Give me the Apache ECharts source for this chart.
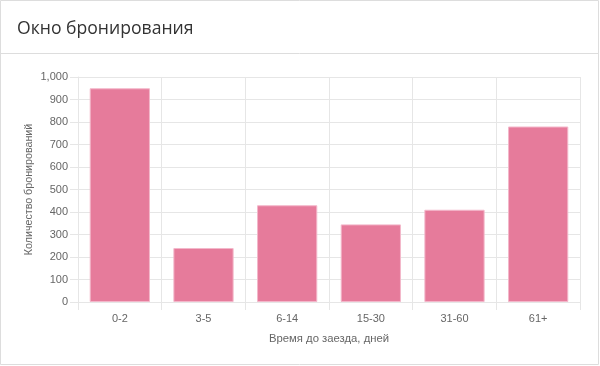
<!DOCTYPE html>
<html>
<head>
<meta charset="utf-8">
<script src="https://cdn.jsdelivr.net/npm/echarts@6/dist/echarts.min.js"></script>
<style>
html,body{margin:0;padding:0;background:#fff;}
#c{width:600px;height:366px;}
</style>
</head>
<body>
<div id="c"></div>
<script>
const titleText = 'Окно бронирования';
const categories = ['0-2', '3-5', '6-14', '15-30', '31-60', '61+'];
const bookings = [950, 240, 430, 345, 410, 780];
const yAxisName = 'Количество бронирований';
const xAxisName = 'Время до заезда, дней';

const chart = echarts.init(document.getElementById('c'), null, {renderer: 'canvas'});
const gridColor = '#e6e6e6';
chart.setOption({
  animation: false,
  backgroundColor: '#fff',
  title: {
    text: titleText,
    left: 17,
    top: 20,
    padding: 0,
    textStyle: {fontFamily: 'Open Sans', fontSize: 17.6, fontWeight: 'normal', color: '#333'}
  },
  graphic: [
    {type: 'rect', shape: {x: 0.5, y: 0.5, width: 598, height: 364}, style: {fill: 'none', stroke: '#dddddd', lineWidth: 1}, silent: true, z: -1},
    {type: 'line', shape: {x1: 0, y1: 53.5, x2: 599, y2: 53.5}, style: {stroke: '#dddddd', lineWidth: 1}, silent: true}
  ],
  grid: {left: 78, right: 20, top: 77, bottom: 64, containLabel: false},
  xAxis: {
    type: 'category',
    data: categories,
    name: xAxisName,
    nameLocation: 'middle',
    nameGap: 31,
    nameMoveOverlap: false,
    nameTextStyle: {fontFamily: 'Liberation Sans', fontSize: 11.3, color: '#666'},
    axisLine: {show: true, lineStyle: {color: gridColor}},
    axisTick: {show: true, length: 8, lineStyle: {color: gridColor}},
    splitLine: {show: true, lineStyle: {color: gridColor}},
    axisLabel: {fontFamily: 'Liberation Sans', fontSize: 11, color: '#666', margin: 11}
  },
  yAxis: {
    type: 'value',
    min: 0,
    max: 1000,
    interval: 100,
    name: yAxisName,
    nameLocation: 'middle',
    nameGap: 43,
    nameMoveOverlap: false,
    nameTextStyle: {fontFamily: 'Liberation Sans', fontSize: 10.7, color: '#666'},
    axisLine: {show: true, lineStyle: {color: gridColor}},
    axisTick: {show: true, length: 8, lineStyle: {color: gridColor}},
    splitLine: {show: true, lineStyle: {color: gridColor}},
    axisLabel: {
      fontFamily: 'Liberation Sans', fontSize: 11, color: '#666', margin: 10,
      formatter: v => v.toLocaleString('en-US')
    }
  },
  series: [{
    type: 'bar',
    data: bookings,
    barWidth: '72%',
    itemStyle: {color: '#e67b9b', borderColor: '#f3b7ca', borderWidth: 1}
  }]
});
</script>
</body>
</html>
